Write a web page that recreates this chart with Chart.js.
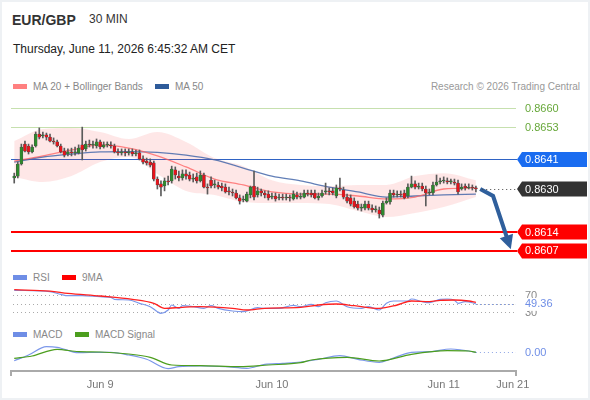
<!DOCTYPE html>
<html>
<head>
<meta charset="utf-8">
<title>EUR/GBP 30 MIN</title>
<script src="https://cdn.jsdelivr.net/npm/chart.js@4.4.1/dist/chart.umd.min.js"></script>
<style>
  body { margin: 0; background: #fff; }
  #wrap { position: relative; width: 590px; height: 400px; overflow: hidden; background: #fff;
          font-family: "Liberation Sans", Arial, sans-serif; }
  #wrap canvas { position: absolute; left: 0; }
  .txt { position: absolute; white-space: nowrap; line-height: 1; }
  .sw { position: absolute; width: 14px; height: 5px; }
  #frame { position: absolute; left: 0; top: 0; width: 590px; height: 400px; box-sizing: border-box;
           border: 2px solid #eef1f4; pointer-events: none; }
</style>
</head>
<body>
<div id="wrap">
  <div class="txt" style="left:12px;top:13px;font-size:14px;font-weight:bold;color:#333">EUR/GBP</div>
  <div class="txt" style="left:89px;top:13px;font-size:12px;color:#333">30 MIN</div>
  <div class="txt" style="left:13px;top:43px;font-size:12px;color:#222">Thursday, June 11, 2026 6:45:32 AM CET</div>

  <div class="sw" style="left:13px;top:84px;background:#ff8080"></div>
  <div class="txt" style="left:33px;top:82px;font-size:10px;color:#888">MA 20 + Bollinger Bands</div>
  <div class="sw" style="left:155px;top:84px;background:#2e5b9a"></div>
  <div class="txt" style="left:175px;top:82px;font-size:10px;color:#888">MA 50</div>
  <div class="txt" style="right:10px;top:82px;font-size:10px;color:#999">Research © 2026 Trading Central</div>

  <div class="sw" style="left:13px;top:275px;background:#6f8ee6"></div>
  <div class="txt" style="left:33px;top:273px;font-size:10px;color:#888">RSI</div>
  <div class="sw" style="left:62px;top:275px;background:#ff0000"></div>
  <div class="txt" style="left:82px;top:273px;font-size:10px;color:#888">9MA</div>

  <div class="sw" style="left:13px;top:332px;background:#6f8ee6"></div>
  <div class="txt" style="left:33px;top:330px;font-size:10px;color:#888">MACD</div>
  <div class="sw" style="left:75px;top:332px;background:#4c9e1e"></div>
  <div class="txt" style="left:95px;top:330px;font-size:10px;color:#888">MACD Signal</div>

  <canvas id="cPrice" width="590" height="170" style="top:96px"></canvas>
  <canvas id="cRsi" width="590" height="35" style="top:285px"></canvas>
  <canvas id="cMacd" width="590" height="62" style="top:338px"></canvas>
  <div id="frame"></div>
</div>

<script>
const FONT = '"Liberation Sans", Arial, sans-serif';

// 30 min candles, index 0 = Jun 8 12:00
const open = [
  0.86341, 0.86348, 0.86393, 0.86467, 0.86460, 0.86438, 0.86460, 0.86504, 0.86497, 0.86501,
  0.86493, 0.86478, 0.86475, 0.86460, 0.86441, 0.86430, 0.86438, 0.86434, 0.86434, 0.86464,
  0.86449, 0.86467, 0.86464, 0.86460, 0.86475, 0.86456, 0.86464, 0.86464, 0.86460, 0.86438,
  0.86434, 0.86438, 0.86434, 0.86438, 0.86430, 0.86434, 0.86412, 0.86404, 0.86400, 0.86397,
  0.86337, 0.86319, 0.86311, 0.86330, 0.86330, 0.86371, 0.86348, 0.86341, 0.86356, 0.86352,
  0.86337, 0.86345, 0.86330, 0.86352, 0.86307, 0.86333, 0.86315, 0.86315, 0.86311, 0.86307,
  0.86293, 0.86289, 0.86285, 0.86267, 0.86259, 0.86255, 0.86278, 0.86311, 0.86278, 0.86293,
  0.86285, 0.86281, 0.86270, 0.86274, 0.86267, 0.86270, 0.86267, 0.86270, 0.86263, 0.86278,
  0.86270, 0.86270, 0.86285, 0.86285, 0.86285, 0.86267, 0.86274, 0.86289, 0.86293, 0.86293,
  0.86274, 0.86304, 0.86296, 0.86270, 0.86267, 0.86255, 0.86244, 0.86229, 0.86229, 0.86244,
  0.86229, 0.86222, 0.86222, 0.86203, 0.86248, 0.86252, 0.86285, 0.86278, 0.86281, 0.86285,
  0.86274, 0.86307, 0.86319, 0.86307, 0.86311, 0.86300, 0.86285, 0.86285, 0.86315, 0.86326,
  0.86330, 0.86330, 0.86326, 0.86326, 0.86322, 0.86300, 0.86311, 0.86304, 0.86307, 0.86304
];
const high = [
  0.86359, 0.86400, 0.86467, 0.86478, 0.86467, 0.86464, 0.86512, 0.86527, 0.86512, 0.86508,
  0.86504, 0.86490, 0.86482, 0.86467, 0.86452, 0.86449, 0.86452, 0.86456, 0.86464, 0.86530,
  0.86478, 0.86482, 0.86478, 0.86486, 0.86482, 0.86475, 0.86475, 0.86475, 0.86467, 0.86449,
  0.86449, 0.86449, 0.86449, 0.86449, 0.86445, 0.86445, 0.86423, 0.86415, 0.86412, 0.86404,
  0.86345, 0.86330, 0.86341, 0.86348, 0.86385, 0.86382, 0.86367, 0.86371, 0.86371, 0.86363,
  0.86356, 0.86359, 0.86367, 0.86359, 0.86319, 0.86345, 0.86333, 0.86326, 0.86322, 0.86319,
  0.86307, 0.86300, 0.86296, 0.86278, 0.86274, 0.86289, 0.86311, 0.86367, 0.86307, 0.86300,
  0.86293, 0.86293, 0.86285, 0.86285, 0.86281, 0.86281, 0.86281, 0.86278, 0.86293, 0.86289,
  0.86285, 0.86296, 0.86296, 0.86296, 0.86296, 0.86285, 0.86296, 0.86322, 0.86304, 0.86304,
  0.86315, 0.86341, 0.86307, 0.86281, 0.86278, 0.86267, 0.86255, 0.86244, 0.86255, 0.86255,
  0.86241, 0.86237, 0.86233, 0.86255, 0.86267, 0.86296, 0.86296, 0.86293, 0.86293, 0.86296,
  0.86319, 0.86348, 0.86330, 0.86322, 0.86322, 0.86311, 0.86300, 0.86326, 0.86352, 0.86341,
  0.86345, 0.86341, 0.86337, 0.86337, 0.86333, 0.86319, 0.86319, 0.86319, 0.86315, 0.86311
];
const low = [
  0.86322, 0.86341, 0.86389, 0.86438, 0.86430, 0.86434, 0.86456, 0.86486, 0.86490, 0.86482,
  0.86475, 0.86467, 0.86456, 0.86434, 0.86419, 0.86423, 0.86423, 0.86426, 0.86430, 0.86408,
  0.86441, 0.86456, 0.86452, 0.86452, 0.86449, 0.86452, 0.86456, 0.86452, 0.86434, 0.86426,
  0.86426, 0.86423, 0.86426, 0.86423, 0.86423, 0.86408, 0.86393, 0.86389, 0.86382, 0.86330,
  0.86300, 0.86274, 0.86293, 0.86315, 0.86322, 0.86337, 0.86330, 0.86333, 0.86337, 0.86330,
  0.86326, 0.86322, 0.86326, 0.86304, 0.86281, 0.86304, 0.86304, 0.86300, 0.86293, 0.86285,
  0.86278, 0.86274, 0.86263, 0.86244, 0.86252, 0.86252, 0.86267, 0.86259, 0.86270, 0.86274,
  0.86267, 0.86259, 0.86263, 0.86255, 0.86259, 0.86259, 0.86259, 0.86255, 0.86259, 0.86263,
  0.86263, 0.86267, 0.86274, 0.86270, 0.86263, 0.86259, 0.86270, 0.86281, 0.86278, 0.86278,
  0.86267, 0.86293, 0.86263, 0.86248, 0.86237, 0.86229, 0.86222, 0.86218, 0.86222, 0.86222,
  0.86214, 0.86214, 0.86192, 0.86196, 0.86244, 0.86244, 0.86270, 0.86270, 0.86270, 0.86263,
  0.86267, 0.86304, 0.86300, 0.86300, 0.86293, 0.86237, 0.86278, 0.86278, 0.86311, 0.86319,
  0.86322, 0.86319, 0.86319, 0.86315, 0.86281, 0.86296, 0.86296, 0.86300, 0.86296, 0.86289
];
const close = [
  0.86348, 0.86393, 0.86456, 0.86441, 0.86438, 0.86456, 0.86504, 0.86493, 0.86501, 0.86493,
  0.86478, 0.86475, 0.86460, 0.86438, 0.86426, 0.86438, 0.86434, 0.86438, 0.86452, 0.86445,
  0.86467, 0.86464, 0.86467, 0.86475, 0.86456, 0.86464, 0.86467, 0.86460, 0.86438, 0.86434,
  0.86438, 0.86434, 0.86438, 0.86430, 0.86434, 0.86412, 0.86400, 0.86397, 0.86389, 0.86337,
  0.86315, 0.86307, 0.86330, 0.86326, 0.86374, 0.86352, 0.86341, 0.86356, 0.86348, 0.86337,
  0.86341, 0.86330, 0.86352, 0.86307, 0.86304, 0.86311, 0.86319, 0.86307, 0.86304, 0.86289,
  0.86289, 0.86285, 0.86267, 0.86255, 0.86263, 0.86281, 0.86307, 0.86270, 0.86293, 0.86285,
  0.86278, 0.86267, 0.86274, 0.86263, 0.86270, 0.86267, 0.86270, 0.86267, 0.86281, 0.86270,
  0.86274, 0.86285, 0.86281, 0.86278, 0.86267, 0.86274, 0.86285, 0.86293, 0.86289, 0.86285,
  0.86304, 0.86300, 0.86270, 0.86255, 0.86244, 0.86233, 0.86229, 0.86233, 0.86244, 0.86229,
  0.86222, 0.86226, 0.86207, 0.86248, 0.86255, 0.86285, 0.86278, 0.86281, 0.86278, 0.86267,
  0.86307, 0.86319, 0.86307, 0.86311, 0.86300, 0.86285, 0.86289, 0.86315, 0.86326, 0.86330,
  0.86333, 0.86326, 0.86330, 0.86322, 0.86289, 0.86307, 0.86304, 0.86307, 0.86304, 0.86300
];

// moving averages and bands, read every 8 candles
const maIdx   = [0, 8, 16, 24, 32, 40, 48, 56, 64, 72, 80, 88, 96, 104, 112, 120, 129];
const ma20    = [0.86404, 0.86423, 0.86445, 0.86464, 0.86452, 0.86423, 0.86382, 0.86337, 0.86315, 0.86289, 0.86281, 0.86281, 0.86274, 0.86263, 0.86270, 0.86300, 0.86304];
const ma50    = [0.86400, 0.86419, 0.86430, 0.86438, 0.86439, 0.86436, 0.86426, 0.86408, 0.86378, 0.86348, 0.86330, 0.86307, 0.86289, 0.86270, 0.86274, 0.86278, 0.86281];
const bbUpper = [0.86478, 0.86523, 0.86527, 0.86512, 0.86486, 0.86512, 0.86475, 0.86415, 0.86385, 0.86333, 0.86315, 0.86311, 0.86315, 0.86315, 0.86348, 0.86359, 0.86333];
const bbLower = [0.86345, 0.86326, 0.86348, 0.86400, 0.86419, 0.86356, 0.86293, 0.86278, 0.86252, 0.86248, 0.86248, 0.86244, 0.86218, 0.86196, 0.86211, 0.86233, 0.86270];

// levels
const resistances = [0.8660, 0.8653];
const pivot = 0.8641;
const lastPrice = 0.8630;
const supports = [0.8614, 0.8607];
const arrowIdx = [130.2, 133.8, 137.6];
const arrowPrice = [0.86300, 0.86274, 0.86122];

// RSI(14) and its 9 period average
const rsiIdx = [0, 10, 13, 15, 19, 24, 27, 28, 32, 35, 38, 40, 41, 43, 44, 46, 47, 50, 53, 55, 57, 61, 64, 68, 70,
                74, 78, 80, 83, 85, 87, 90, 93, 97, 99, 102, 104, 106, 110, 111, 114, 116, 119, 121, 123, 124, 126, 128, 129];
const rsi = [81.3, 78.0, 71.9, 68.6, 68.6, 66.2, 64.8, 60.1, 58.5, 50.7, 42.7, 30.9, 27.2, 34.9, 46.7, 38.9, 45.1, 42.7, 38.9, 45.1, 38.9, 32.6, 30.9, 40.4, 38.9,
             38.9, 46.0, 42.7, 48.4, 42.7, 52.1, 56.1, 42.7, 38.9, 42.7, 34.9, 50.7, 56.1, 56.1, 60.8, 54.5, 52.1, 60.1, 60.8, 57.8, 50.7, 54.5, 52.1, 49.36];
const rsiMaIdx = [0, 10, 15, 24, 33, 39, 42, 47, 52, 61, 65, 70, 80, 85, 90, 95, 102, 107, 111, 116, 119, 123, 127, 129];
const rsiMa = [82.7, 79.6, 74.2, 67.9, 60.1, 50.7, 38.9, 41.3, 42.7, 38.9, 34.9, 38.9, 41.3, 46.7, 49.1, 45.1, 38.9, 46.7, 56.1, 54.5, 57.8, 58.5, 56.1, 53.1];
const rsiLevels = [70, 50, 30];
const rsiLast = 49.36;

// MACD
const macdIdx = [0, 4, 9, 12, 18, 24, 27, 32, 37, 43, 46, 52, 59, 65, 70, 75, 80, 85, 91, 96, 102, 105, 111, 116, 122, 125, 129];
const macd = [-0.000087, -0.000030, 0.000053, 0.000047, -0.000007, -0.000003, -0.000003, -0.000030, -0.000073, -0.000167,
              -0.000147, -0.000140, -0.000147, -0.000163, -0.000123, -0.000113, -0.000100, -0.000073, -0.000037, -0.000073,
              -0.000103, -0.000073, -0.000003, 0.000003, 0.000030, 0.000020, -0.000003];
const sigIdx = [0, 5, 12, 18, 24, 32, 38, 44, 52, 63, 71, 80, 83, 93, 102, 111, 121, 127, 129];
const signal = [-0.000063, -0.000040, 0.000027, 0.000003, 0, -0.000020, -0.000053, -0.000130, -0.000137, -0.000147,
                -0.000130, -0.000107, -0.000080, -0.000053, -0.000090, -0.000023, 0.000013, 0.000010, -0.000003];
const macdLast = 0.00;

// time axis
const tickIdx = [24, 72, 120, 139.3];
const tickLabels = ['Jun 9', 'Jun 10', 'Jun 11', 'Jun 21'];
const X_MIN = -0.9, X_MAX = 140.2;

function pts(xs, ys) { return xs.map((x, i) => ({ x: x, y: ys[i] })); }

function hline(ctx, x1, x2, y, color, width, dash) {
  ctx.save();
  ctx.strokeStyle = color;
  ctx.lineWidth = width;
  ctx.setLineDash(dash || []);
  const yy = width % 2 ? Math.round(y) + 0.5 : Math.round(y);
  ctx.beginPath();
  ctx.moveTo(x1, yy);
  ctx.lineTo(x2, yy);
  ctx.stroke();
  ctx.restore();
}

function tag(ctx, x, y, text, color) {
  const h = 15, tip = 5, w = 70;
  ctx.save();
  ctx.fillStyle = color;
  ctx.beginPath();
  ctx.moveTo(x, y);
  ctx.lineTo(x + tip, y - h / 2);
  ctx.lineTo(x + w, y - h / 2);
  ctx.lineTo(x + w, y + h / 2);
  ctx.lineTo(x + tip, y + h / 2);
  ctx.closePath();
  ctx.fill();
  ctx.fillStyle = '#fff';
  ctx.font = '11px ' + FONT;
  ctx.textBaseline = 'middle';
  ctx.fillText(text, x + 8, y + 0.5);
  ctx.restore();
}

function label(ctx, x, y, text, color, bg) {
  ctx.save();
  ctx.font = '11px ' + FONT;
  ctx.textBaseline = 'middle';
  if (bg) {
    ctx.fillStyle = bg;
    ctx.fillRect(x - 1, y - 6, ctx.measureText(text).width + 2, 13);
  }
  ctx.fillStyle = color;
  ctx.fillText(text, x, y + 0.5);
  ctx.restore();
}

const base = {
  responsive: false,
  animation: false,
  devicePixelRatio: 1,
  layout: { padding: { left: 11, right: 74, top: 0, bottom: 0 } },
  plugins: { legend: { display: false }, tooltip: { enabled: false } }
};

// ---- price panel ----
const priceLevels = {
  id: 'priceLevels',
  beforeDatasetsDraw(chart) {
    const { ctx, chartArea: a, scales: { y } } = chart;
    resistances.forEach(v => hline(ctx, a.left, a.right, y.getPixelForValue(v), '#c6e0ae', 1));
    hline(ctx, a.left, a.right + 1, y.getPixelForValue(pivot), '#2f63c4', 1);
    supports.forEach(v => hline(ctx, a.left, a.right + 1, y.getPixelForValue(v), '#ff0000', 2));
  },
  afterDatasetsDraw(chart) {
    const { ctx, chartArea: a, scales: { x, y } } = chart;
    hline(ctx, x.getPixelForValue(arrowIdx[0]) + 2, a.right, y.getPixelForValue(lastPrice), '#444', 1, [1, 3]);

    // arrow head on the forecast line
    const p = chart.getDatasetMeta(6).data;
    const p1 = p[p.length - 2], p2 = p[p.length - 1];
    const dx = p2.x - p1.x, dy = p2.y - p1.y, len = Math.hypot(dx, dy);
    const ux = dx / len, uy = dy / len, L = 13, W = 7;
    const bx = p2.x - ux, by = p2.y - uy;
    ctx.save();
    ctx.fillStyle = '#2f5f9c';
    ctx.beginPath();
    ctx.moveTo(bx + ux * (L + 1), by + uy * (L + 1));
    ctx.lineTo(bx - uy * W, by + ux * W);
    ctx.lineTo(bx + uy * W, by - ux * W);
    ctx.closePath();
    ctx.fill();
    ctx.restore();

    const lx = a.right + 9;
    resistances.forEach(v => label(ctx, lx, y.getPixelForValue(v), v.toFixed(4), '#67a83a'));
    tag(ctx, a.right + 1, y.getPixelForValue(pivot), pivot.toFixed(4), '#1a6cf0');
    tag(ctx, a.right + 1, y.getPixelForValue(lastPrice), lastPrice.toFixed(4), '#333333');
    supports.forEach(v => tag(ctx, a.right + 1, y.getPixelForValue(v), v.toFixed(4), '#ff0000'));
  }
};

const candleX = close.map((c, i) => i);
const bull = close.map((c, i) => c >= open[i]);

new Chart(document.getElementById('cPrice'), {
  type: 'bar',
  data: {
    datasets: [
      { type: 'line', label: 'BB upper', data: pts(maIdx, bbUpper), borderWidth: 0, pointRadius: 0,
        fill: false, cubicInterpolationMode: 'monotone', order: 10 },
      { type: 'line', label: 'BB lower', data: pts(maIdx, bbLower), borderWidth: 0, pointRadius: 0,
        fill: '-1', backgroundColor: 'rgba(245,70,70,0.13)', cubicInterpolationMode: 'monotone', order: 10 },
      { type: 'line', label: 'MA 50', data: pts(maIdx, ma50), borderColor: 'rgba(70,105,170,0.85)', borderWidth: 1.3,
        pointRadius: 0, cubicInterpolationMode: 'monotone', order: 6 },
      { type: 'line', label: 'MA 20', data: pts(maIdx, ma20), borderColor: 'rgba(255,95,95,0.75)', borderWidth: 1.3,
        pointRadius: 0, cubicInterpolationMode: 'monotone', order: 5 },
      { label: 'wick', data: candleX.map(i => ({ x: i, y: [low[i], high[i]] })), backgroundColor: '#5b5b5b',
        barThickness: 1, grouped: false, order: 3 },
      { label: 'body', data: candleX.map(i => ({ x: i, y: [open[i], close[i]] })),
        backgroundColor: bull.map(b => b ? '#2d8a2d' : '#e8131b'), borderColor: '#4a4a4a', borderWidth: 0.5,
        borderSkipped: false, barThickness: 3, grouped: false, order: 2 },
      { type: 'line', label: 'forecast', data: pts(arrowIdx, arrowPrice), borderColor: '#2f5f9c', borderWidth: 4,
        pointRadius: 0, tension: 0, order: 1 }
    ]
  },
  options: Object.assign({}, base, {
    scales: {
      x: { type: 'linear', min: X_MIN, max: X_MAX, offset: false, display: false },
      y: { min: 0.860138, max: 0.866457, display: false }
    }
  }),
  plugins: [priceLevels]
});

// ---- RSI panel ----
const rsiDeco = {
  id: 'rsiDeco',
  beforeDatasetsDraw(chart) {
    const { ctx, chartArea: a, scales: { y } } = chart;
    rsiLevels.forEach(v => hline(ctx, a.left + 2, a.right, y.getPixelForValue(v), '#aaa', 1, [1, 3]));
  },
  afterDatasetsDraw(chart) {
    const { ctx, chartArea: a, scales: { x, y } } = chart;
    hline(ctx, x.getPixelForValue(rsiIdx[rsiIdx.length - 1]), a.right, y.getPixelForValue(rsiLast), '#6f8ee6', 1, [1, 3]);
    label(ctx, a.right + 9, y.getPixelForValue(70), '70', '#888');
    label(ctx, a.right + 9, y.getPixelForValue(30), '30', '#888');
    label(ctx, a.right + 9, y.getPixelForValue(rsiLast), rsiLast.toFixed(2), '#6f8ee6', '#fff');
  }
};

new Chart(document.getElementById('cRsi'), {
  type: 'line',
  data: {
    datasets: [
      { label: 'RSI', data: pts(rsiIdx, rsi), borderColor: '#7b97ea', borderWidth: 1.2, pointRadius: 0,
        cubicInterpolationMode: 'monotone', order: 2 },
      { label: '9MA', data: pts(rsiMaIdx, rsiMa), borderColor: '#ff2020', borderWidth: 1.3, pointRadius: 0,
        cubicInterpolationMode: 'monotone', order: 1 }
    ]
  },
  options: Object.assign({}, base, {
    scales: {
      x: { type: 'linear', min: X_MIN, max: X_MAX, offset: false, display: false },
      y: { min: 11.4, max: 93.8, display: false }
    }
  }),
  plugins: [rsiDeco]
});

// ---- MACD panel ----
const macdDeco = {
  id: 'macdDeco',
  afterDatasetsDraw(chart) {
    const { ctx, chartArea: a, scales: { x, y } } = chart;
    const yy = y.getPixelForValue(macdLast);
    hline(ctx, x.getPixelForValue(macdIdx[macdIdx.length - 1]), a.right, yy, '#8fa6e6', 1, [1, 3]);
    label(ctx, a.right + 9, yy, macdLast.toFixed(2), '#6f8ee6');
  }
};

const edgeTicks = [X_MIN, X_MAX];

new Chart(document.getElementById('cMacd'), {
  type: 'line',
  data: {
    datasets: [
      { label: 'MACD', data: pts(macdIdx, macd), borderColor: '#7b97ea', borderWidth: 1.2, pointRadius: 0,
        cubicInterpolationMode: 'monotone', order: 2 },
      { label: 'MACD Signal', data: pts(sigIdx, signal), borderColor: '#4c9e1e', borderWidth: 1.2, pointRadius: 0,
        cubicInterpolationMode: 'monotone', order: 1 }
    ]
  },
  options: Object.assign({}, base, {
    scales: {
      x: {
        type: 'linear', min: X_MIN, max: X_MAX, offset: false,
        afterBuildTicks: s => { s.ticks = edgeTicks.concat(tickIdx).sort((a, b) => a - b).map(v => ({ value: v })); },
        afterFit: s => { s.height = 29; },
        ticks: {
          autoSkip: false, maxRotation: 0, minRotation: 0, padding: 2,
          color: '#777', font: { family: FONT, size: 11 },
          callback: v => { const k = tickIdx.indexOf(v); return k < 0 ? '' : tickLabels[k]; }
        },
        grid: {
          drawOnChartArea: false, drawTicks: true, tickLength: 5, lineWidth: 2,
          color: c => (c.tick && edgeTicks.includes(c.tick.value)) ? '#aaa' : 'rgba(0,0,0,0)'
        },
        border: { display: true, color: '#aaa', width: 2 }
      },
      y: { min: -0.00019, max: 0.00014, display: false }
    }
  }),
  plugins: [macdDeco]
});
</script>
</body>
</html>
